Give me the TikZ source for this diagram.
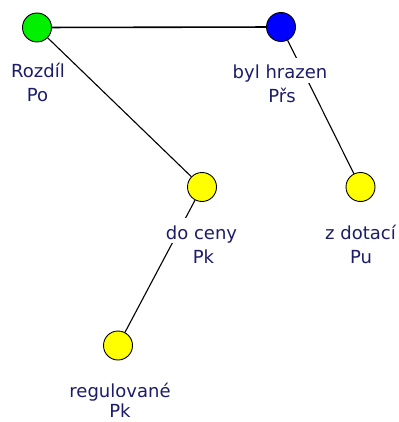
\documentclass[tikz,border=0pt]{standalone}
\usepackage{fontspec}
\setmainfont{DejaVu Sans}
\definecolor{txt}{RGB}{28,28,105}
\definecolor{vgreen}{RGB}{0,240,0}
\definecolor{vblue}{RGB}{0,0,255}
\definecolor{vyellow}{RGB}{255,255,0}
\begin{document}
\begin{tikzpicture}[x=1pt,y=-1pt,
  vert/.style={circle, draw=black, line width=0.9pt, minimum size=29pt, inner sep=0pt},
  lab/.style={fill=white, text=txt, font=\fontsize{18}{22}\selectfont, inner xsep=1pt, inner ysep=0pt, text height=21pt, text depth=4pt, anchor=base},
  conn/.style={line width=1.1pt, black}]
\useasboundingbox (0,0) rectangle (398,422);
\node[vert, fill=vgreen] (po) at (37,27.5) {};
\node[vert, fill=vblue] (prs) at (281,27) {};
\node[vert, fill=vyellow] (pk1) at (202,187) {};
\node[vert, fill=vyellow] (pu) at (360.5,187) {};
\node[vert, fill=vyellow] (pk2) at (118,345.5) {};
\draw[conn, line width=1.6pt] (po) -- (prs);
\draw[conn] (po) -- (pk1);
\draw[conn] (prs) -- (pu);
\draw[conn] (pk1) -- (pk2);
\node[lab] (poa) at (38,78) {Rozdíl};
\node[lab] (pob) at (37.5,102) {Po};
\node[lab] (prsa) at (280,79) {byl hrazen};
\node[lab] (prsb) at (282,103) {Přs};
\node[lab] (pk1a) at (201.5,239) {do ceny};
\node[lab] (pk1b) at (203.5,263) {Pk};
\node[lab] (pua) at (360.5,239) {z dotací};
\node[lab] (pub) at (361,263) {Pu};
\node[lab] (pk2a) at (120,397) {regulované};
\node[lab, text depth=0pt] (pk2b) at (120,417.5) {Pk};
\end{tikzpicture}
\end{document}
